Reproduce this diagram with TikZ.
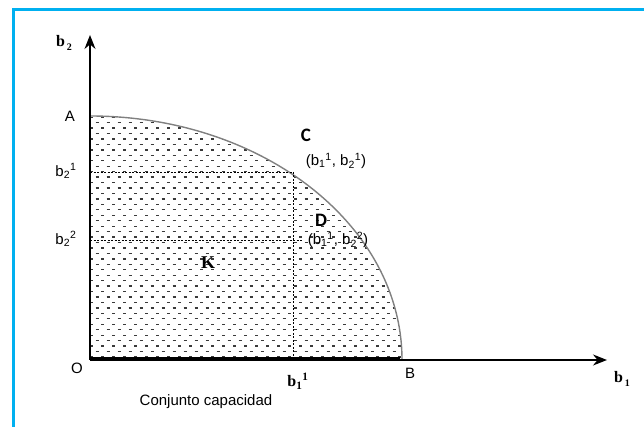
\documentclass[tikz,border=0pt]{standalone}
\usepackage{fontspec}
\setmainfont{Liberation Sans}
\newfontfamily\capserif{Liberation Serif}
\newfontfamily\capcalib{Carlito}
\usetikzlibrary{arrows.meta,positioning}
\definecolor{fcyan}{HTML}{00B0F0}
\definecolor{fdot}{HTML}{3A3A3A}
\tikzset{
 axis/.style={line width=1.3pt, -{Stealth[length=14pt,width=11pt]}},
 guide/.style={line width=0.8pt, dash pattern=on 2pt off 1.5pt},
 shadedash/.style={fdot, line width=1.3pt, dash pattern=on 3pt off 8pt},
 lbl/.style={font=\fontsize{15}{15}\selectfont, inner sep=0pt},
 blbl/.style={font=\fontsize{16}{16}\selectfont\capserif\bfseries, inner sep=0pt},
 pt/.style={font=\fontsize{19}{19}\selectfont\capcalib\bfseries, inner sep=0pt}
}
\begin{document}
\begin{tikzpicture}[x=1pt,y=1pt]
 \useasboundingbox (-90,-67) rectangle (554,360);
 % frame
 \draw[fcyan, line width=3pt] (-76.5,-67) -- (-76.5,350.5) -- (554,350.5);
 \coordinate (O) at (0,0);
 \coordinate (A) at (0,244);
 \coordinate (B) at (312,0);
 \coordinate (C) at (203,188);
 \coordinate (D) at (203,120);
 \coordinate (Y) at (0,325);
 \coordinate (X) at (517,0);
 % conjunto K
 \begin{scope}
  \clip (O) -- (A) arc[start angle=90, end angle=0, x radius=312, y radius=244] -- cycle;
  \foreach \r in {0,...,44} {
   \pgfmathsetmacro\ph{mod(\r,2)*5.5}
   \draw[shadedash, dash phase=\ph pt] (0,{3+\r*5.45}) -- (320,{3+\r*5.45});
  }
 \end{scope}
 \draw[gray, line width=1.4pt] (A) arc[start angle=90, end angle=0, x radius=312, y radius=244];
 \draw[guide] (A |- C) -- (C) -- (C |- O);
 \draw[guide] (A |- D) -- ([xshift=10pt]D);
 \draw[line width=3.5pt] (0,1.5) -- (310,1.5);
 \draw[axis] (O) -- (Y);
 \draw[axis] (O) -- (X);
 % labels
 \node[blbl] (b2) at (-26,317) {b\raisebox{-4pt}{\fontsize{10}{10}\selectfont\,2}};
 \node[blbl] (b1) at (532,-19) {b\raisebox{-4pt}{\fontsize{10}{10}\selectfont\,1}};
 \node[lbl] (lA) at (-20,244) {A};
 \node[lbl] (lO) at (-13,-8) {O};
 \node[lbl] (lB) at (320,-13) {B};
 \node[lbl] (b21) at (-24,189) {b\textsubscript{2}\textsuperscript{1}};
 \node[lbl] (b22) at (-24,121) {b\textsubscript{2}\textsuperscript{2}};
 \node[blbl] (b11) at (208,-21) {b\textsubscript{1}\textsuperscript{1}};
 \node[blbl, font=\fontsize{18}{18}\selectfont\capserif\bfseries] (K) at (118,97) {K};
 \node[pt] (lC) at (216,225) {C};
 \node[lbl] (cC) at (246,199) {(b\textsubscript{1}\textsuperscript{1}, b\textsubscript{2}\textsuperscript{1})};
 \node[pt] (lD) at (231,140) {D};
 \node[lbl] (cD) at (248,120) {(b\textsubscript{1}\textsuperscript{1}, b\textsubscript{2}\textsuperscript{2})};
 \node[lbl] (cap) at (116,-42) {Conjunto capacidad};
\end{tikzpicture}
\end{document}
